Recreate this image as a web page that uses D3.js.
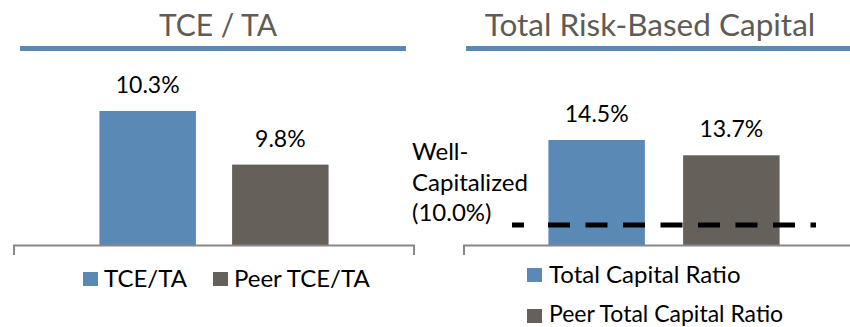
<!DOCTYPE html>
<html>
<head>
<meta charset="utf-8">
<script src="https://cdn.jsdelivr.net/npm/d3@7"></script>
<style>
  body { margin: 0; background: #fff; }
  text { font-family: Lato, "Open Sans", sans-serif; }
</style>
</head>
<body>
<div id="chart"></div>
<script>
(function () {
var tceSeries = ["TCE/TA", "Peer TCE/TA"];
var tceValues = [10.3, 9.8];
var trbcSeries = ["Total Capital Ratio", "Peer Total Capital Ratio"];
var trbcValues = [14.5, 13.7];
var wellCapitalized = 10.0;
var wellLabel = ["Well-", "Capitalized", "(10.0%)"];
var titles = ["TCE / TA", "Total Risk-Based Capital"];

var colors = ["#5b89b5", "#65615a"];
var W = 850, H = 327;
var base = 245;

var svg = d3.select("#chart").append("svg").attr("width", W).attr("height", H);

// titles + underline
svg.append("text").attr("x", 218).attr("y", 36).attr("text-anchor", "middle")
  .attr("font-size", "30px").attr("fill", "#5f5b55").text(titles[0]);
svg.append("rect").attr("x", 20).attr("y", 46).attr("width", 386).attr("height", 5).attr("fill", colors[0]);
svg.append("text").attr("x", 650).attr("y", 36).attr("text-anchor", "middle")
  .attr("font-size", "31.5px").attr("fill", "#5f5b55").text(titles[1]);
svg.append("rect").attr("x", 466).attr("y", 46).attr("width", 400).attr("height", 5).attr("fill", colors[0]);

function panel(series, values, x0, x1, y, inner) {
  var g = svg.append("g");
  var outer = d3.scaleBand().domain([""]).range([x0, x1]);
  var xs = d3.scaleBand().domain(series).range([0, outer.bandwidth()])
    .paddingInner(inner[0]).paddingOuter(inner[1]);

  g.selectAll(".bar").data(values).enter().append("rect")
    .attr("x", function (d, i) { return outer("") + xs(series[i]); })
    .attr("y", function (d) { return y(d); })
    .attr("width", xs.bandwidth())
    .attr("height", function (d) { return y.range()[0] - y(d); })
    .attr("fill", function (d, i) { return colors[i]; });

  g.selectAll(".lbl").data(values).enter().append("text")
    .attr("x", function (d, i) { return outer("") + xs(series[i]) + xs.bandwidth() / 2; })
    .attr("y", function (d) { return y(d) - 18; })
    .attr("text-anchor", "middle")
    .attr("font-size", "23px").attr("fill", "#000")
    .text(function (d) { return d.toFixed(1) + "%"; });

  // category axis with end ticks
  g.append("path")
    .attr("d", "M" + (x0 + 1) + "," + (base + 10) + "V" + (base + 0.5) + "H" + (x1 - 1) + "V" + (base + 10))
    .attr("fill", "none").attr("stroke", "#878787").attr("stroke-width", 2);
  return g;
}

var yLeft = d3.scaleLinear().domain([9.05, 10.5]).range([base, base - 1.45 * 107.2]);
panel(tceSeries, tceValues, 13, 415, yLeft, [0.2727, 0.6515]);

var yRight = d3.scaleLinear().domain([9, 15]).range([base, base - 6 * 19.09]);
panel(trbcSeries, trbcValues, 463, 865, yRight, [0.2836, 0.634]);

// well-capitalized line
svg.append("line")
  .attr("x1", 512).attr("x2", 816)
  .attr("y1", yRight(wellCapitalized) - 1).attr("y2", yRight(wellCapitalized) - 1)
  .attr("stroke", "#000").attr("stroke-width", 5)
  .attr("stroke-dasharray", "12 24 " + d3.range(8).map(function () { return "22 15.5"; }).join(" "));

svg.append("text").attr("font-size", "24px").attr("fill", "#000")
  .selectAll("tspan").data(wellLabel).enter().append("tspan")
  .attr("x", 412).attr("y", function (d, i) { return 160 + i * 30.5; })
  .text(function (d) { return d; });

// legends
var legL = svg.append("g").selectAll("g").data(tceSeries).enter().append("g")
  .attr("transform", function (d, i) { return "translate(" + [83, 213][i] + ",272)"; });
legL.append("rect").attr("width", 15).attr("height", 14).attr("fill", function (d, i) { return colors[i]; });
legL.append("text").attr("x", 21).attr("y", 15).attr("font-size", "24px").text(function (d) { return d; });

var legR = svg.append("g").selectAll("g").data(trbcSeries).enter().append("g")
  .attr("transform", function (d, i) { return "translate(527," + [268, 309][i] + ")"; });
legR.append("rect").attr("width", 15).attr("height", 14).attr("fill", function (d, i) { return colors[i]; });
legR.append("text").attr("x", 22).attr("y", function (d, i) { return i ? 12.5 : 15; })
  .attr("font-size", function (d, i) { return i ? "23px" : "24px"; }).text(function (d) { return d; });
})();
</script>
</body>
</html>
